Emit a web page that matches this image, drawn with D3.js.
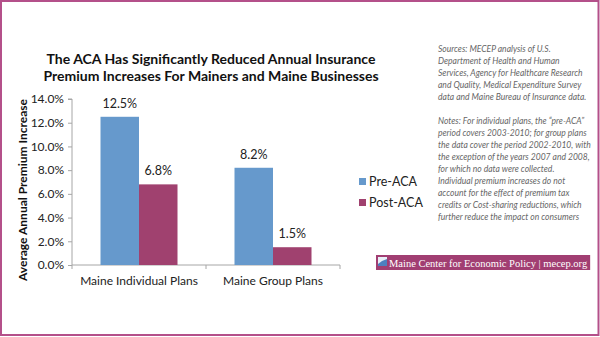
<!DOCTYPE html>
<html><head><meta charset="utf-8">
<script src="https://cdn.jsdelivr.net/npm/d3@7"></script>
<style>
html,body{margin:0;padding:0;background:#fff;}
svg{display:block;}
</style></head>
<body>
<script>
const categories = ["Maine Individual Plans", "Maine Group Plans"];
const seriesNames = ["Pre-ACA", "Post-ACA"];
const preACA = [12.5, 8.2];
const postACA = [6.8, 1.5];
const yTicks = [0, 2, 4, 6, 8, 10, 12, 14];
const titleLines = ["The ACA Has Significantly Reduced Annual  Insurance", "Premium Increases For Mainers and Maine Businesses"];
const yTitle = "Average Annual Premium Increase";
const sourceLines = [
  "Sources: MECEP analysis of U.S.",
  "Department of Health and Human",
  "Services, Agency for Healthcare Research",
  "and Quality, Medical Expenditure Survey",
  "data and Maine Bureau of Insurance data."
];
const noteLines = [
  "Notes: For individual plans, the \u201cpre-ACA\u201d",
  "period covers 2003-2010; for group plans",
  "the data cover the period 2002-2010, with",
  "the exception of the years 2007 and 2008,",
  "for which no data were collected.",
  "Individual premium increases do not",
  "account for the effect of premium tax",
  "credits or Cost-sharing reductions, which",
  "further reduce the impact on consumers"
];
const logoText = "Maine Center for Economic Policy | mecep.org";

const W = 600, H = 337;
const colors = ["#6699cc", "#a0416f"];
const font = "Lato, 'Open Sans', sans-serif";

const svg = d3.select("body").append("svg").attr("width", W).attr("height", H);
svg.append("rect").attr("width", W).attr("height", H).attr("fill", "#fff");

// border
svg.append("rect").attr("x", 1).attr("y", 1).attr("width", W - 2.5).attr("height", H - 3)
  .attr("fill", "none").attr("stroke", "#b4508a").attr("stroke-width", 2);

const x0 = d3.scaleBand().domain(categories).range([72, 340]);
const x1 = d3.scaleBand().domain(seriesNames).range([28.5, x0.bandwidth() - 28.5]);
const y = d3.scaleLinear().domain([0, 14]).range([265, 99]);

// title
svg.append("text").attr("font-family", font).attr("font-weight", "bold").attr("font-size", 14)
  .attr("fill", "#111").attr("text-anchor", "middle")
  .selectAll("tspan").data(titleLines).join("tspan")
  .attr("x", 211).attr("y", (d, i) => 64 + i * 17).text(d => d);

// y axis
const yAxis = d3.axisLeft(y).tickValues(yTicks).tickFormat(d => d3.format(".1f")(d) + "%").tickSize(4).tickPadding(4);
const ya = svg.append("g").attr("transform", "translate(72,0)").call(yAxis);
ya.selectAll("path,line").attr("stroke", "#a6a6a6");
ya.select(".domain").attr("d", `M-4,${y(14)}H0V${y(0)}`);
ya.selectAll("text").attr("font-family", font).attr("font-size", 12).attr("fill", "#222");

// x axis
const xa = svg.append("g").attr("transform", "translate(0,265)");
xa.append("line").attr("x1", 72).attr("x2", 340).attr("stroke", "#a6a6a6");
xa.selectAll("line.tk").data([72, 206, 340]).join("line").attr("class", "tk")
  .attr("x1", d => d).attr("x2", d => d).attr("y1", 0).attr("y2", 4).attr("stroke", "#a6a6a6");
xa.selectAll("text").data(categories).join("text")
  .attr("x", d => x0(d) + x0.bandwidth() / 2).attr("y", 20)
  .attr("text-anchor", "middle").attr("font-family", font).attr("font-size", 12).attr("fill", "#222")
  .text(d => d);

// y title
svg.append("text").attr("transform", `translate(27,${(y(0) + y(14)) / 2 + 8}) rotate(-90)`)
  .attr("text-anchor", "middle").attr("font-family", font).attr("font-weight", "bold")
  .attr("font-size", 12).attr("fill", "#111").text(yTitle);

// bars
const rows = categories.map((c, i) => ({ cat: c, vals: [preACA[i], postACA[i]] }));
const g = svg.append("g");
rows.forEach(r => {
  r.vals.forEach((v, j) => {
    const xx = x0(r.cat) + x1(seriesNames[j]);
    g.append("rect").attr("x", xx).attr("y", y(v)).attr("width", x1.bandwidth())
      .attr("height", y(0) - y(v)).attr("fill", colors[j]);
    g.append("text").attr("x", xx + x1.bandwidth() / 2).attr("y", y(v) - 9)
      .attr("text-anchor", "middle").attr("font-family", font).attr("font-size", 12.5)
      .attr("fill", "#222").text(d3.format(".1f")(v) + "%");
  });
});

// legend
const lg = svg.append("g");
seriesNames.forEach((s, i) => {
  lg.append("rect").attr("x", 359).attr("y", 178 + i * 21).attr("width", 7).attr("height", 7).attr("fill", colors[i]);
  lg.append("text").attr("x", 369).attr("y", 186 + i * 21).attr("font-family", font)
    .attr("font-size", 12.5).attr("fill", "#222").text(s);
});

// notes
const ng = svg.append("g").attr("font-family", font).attr("font-style", "italic")
  .attr("font-size", 9).attr("fill", "#666");
const allLines = [];
sourceLines.forEach((t, i) => allLines.push({ t, y: 52 + i * 12 }));
noteLines.forEach((t, i) => allLines.push({ t, y: 124 + i * 12 }));
const nts = ng.selectAll("text").data(allLines).join("text").attr("x", 0).attr("y", d => d.y).text(d => d.t);
let maxW = 0;
nts.each(function () { maxW = Math.max(maxW, this.getComputedTextLength()); });
const sx = Math.min(1, 153 / maxW);
ng.attr("transform", `translate(438,0) scale(${sx},1)`);

// logo bar
const lb = svg.append("g");
const bar = lb.append("rect").attr("x", 376).attr("y", 255).attr("width", 211).attr("height", 15).attr("fill", "#a13e72");
lb.append("rect").attr("x", 378).attr("y", 257).attr("width", 9).attr("height", 9).attr("fill", "#e8eef7");
lb.append("path").attr("d", "M378,264 L382,261 L387,259 L387,266 L378,266Z").attr("fill", "#4d7fc0");
const serif = "'Liberation Serif', 'Times New Roman', serif";
const lt = lb.append("text").attr("x", 389).attr("y", 266.5).attr("font-family", serif)
  .attr("font-size", 10.5).attr("fill", "#fff").text(logoText);
const tw = lt.node().getComputedTextLength();
bar.attr("width", Math.max(211, tw + 16));
</script>
</body></html>
